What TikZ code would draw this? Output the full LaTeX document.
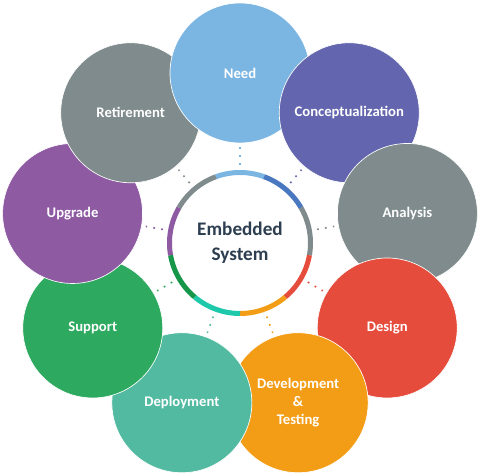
\documentclass[tikz,border=0pt]{standalone}
\usepackage{fontspec}
\setsansfont{Carlito}
\usepackage{tikz}
\usetikzlibrary{positioning}
\definecolor{needblue}{RGB}{123,181,226}
\definecolor{conceptblue}{RGB}{99,102,174}
\definecolor{conceptring}{RGB}{74,120,192}
\definecolor{stagegray}{RGB}{127,139,140}
\definecolor{designred}{RGB}{230,76,60}
\definecolor{devorange}{RGB}{243,157,22}
\definecolor{deployteal}{RGB}{82,186,161}
\definecolor{deployring}{RGB}{30,200,170}
\definecolor{supportgreen}{RGB}{46,170,96}
\definecolor{supportring}{RGB}{22,150,72}
\definecolor{upgradepurple}{RGB}{142,91,163}
\definecolor{textnavy}{RGB}{44,62,80}

\begin{document}
\begin{tikzpicture}[
        x=0.75pt, y=0.75pt,
        % one satellite per life-cycle stage
        stage/.style={circle, fill=#1, draw=white, line width=0.5pt,
            minimum size=105pt, inner sep=0pt,
            align=center, text=white,
            font=\sffamily\bfseries\fontsize{11}{13.5}\selectfont},
        link/.style={draw=#1, line width=1.2pt, dash pattern=on 1.3pt off 4.7pt,
            shorten <=3.75pt, shorten >=3pt},
        ringpart/.style={draw=#1, line width=3.75pt}
    ]
        \fill[white] (-240,-231) rectangle (240,243);

        % Centre
        \node[circle, minimum size=109.5pt, inner sep=0pt, align=center, text=textnavy,
            font=\sffamily\bfseries\fontsize{14.4}{18.5}\selectfont] (es) at (0,0) {Embedded\\System};
        \foreach \a/\c in {90/needblue, 50/conceptring, 10/stagegray, -30/designred,
                -70/devorange, -110/deployring, -150/supportring, 170/upgradepurple, 130/stagegray}
            \draw[ringpart=\c] (\a+20:70.5) arc[start angle=\a+20, end angle=\a-20, radius=52.875pt];

        % Stages
        \node[stage=needblue] (need) at (90:170) {Need};
        \node[stage=conceptblue] (concept) at (50:170) {Conceptualization};
        \node[stage=stagegray] (analysis) at (10:170) {Analysis};
        \node[stage=designred] (design) at (-30:170) {Design};
        \node[stage=devorange] (devtest) at (-70:170) {Development\\\&\\Testing};
        \node[stage=deployteal] (deploy) at (-110:170) {Deployment};
        \node[stage=supportgreen] (support) at (-150:170) {Support};
        \node[stage=upgradepurple] (upgrade) at (170:170) {Upgrade};
        \node[stage=stagegray] (retire) at (130:170) {Retirement};

        % Need lies over Retirement
        \begin{scope}
            \clip (retire.center) circle[radius=54pt];
            \fill[needblue, draw=white, line width=0.5pt] (need.center) circle[radius=52.5pt];
        \end{scope}

        % Connections
        \draw[link=needblue] (es) -- (need);
        \draw[link=conceptblue] (es) -- (concept);
        \draw[link=stagegray] (es) -- (analysis);
        \draw[link=designred] (es) -- (design);
        \draw[link=devorange] (es) -- (devtest);
        \draw[link=deployteal] (es) -- (deploy);
        \draw[link=supportgreen] (es) -- (support);
        \draw[link=upgradepurple] (es) -- (upgrade);
        \draw[link=stagegray] (es) -- (retire);
    \end{tikzpicture}
\end{document}
